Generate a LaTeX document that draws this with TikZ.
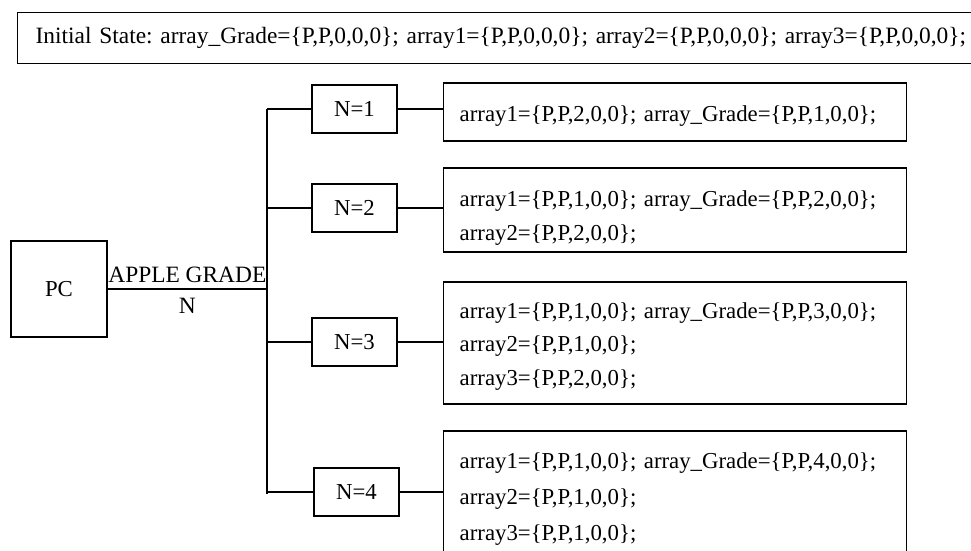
\documentclass[tikz,border=0pt]{standalone}
\usepackage{fontspec}
\setmainfont{Liberation Serif}
\frenchspacing
\begin{document}
\begin{tikzpicture}[x=1pt,y=-1pt,
  line width=1.4pt,
  every node/.style={font=\fontsize{22.8}{34}\selectfont},
  box/.style={draw, rectangle, line width=1.4pt},
  nbox/.style={box, minimum width=85pt, minimum height=48pt, inner sep=0pt},
  frame/.style={box, anchor=west, minimum width=463pt, inner sep=0pt},
  lines/.style={anchor=base west, inner sep=0pt, text width=440pt, align=left},
  wire/.style={line width=1.4pt}]
\useasboundingbox (0,0) rectangle (971,551);
\clip (0,0) rectangle (971,551);

% initial state banner (runs past the right margin)
\node[box, anchor=north west, minimum height=51pt, text width=950pt,
      inner xsep=18pt, inner ysep=0pt, align=left,
      font=\fontsize{23.4}{30}\selectfont] (init) at (17,12)
  {Initial State: array\_Grade=\{P,P,0,0,0\}; array1=\{P,P,0,0,0\}; array2=\{P,P,0,0,0\}; array3=\{P,P,0,0,0\};};

% source
\node[box, minimum width=96pt, minimum height=96pt, inner sep=0pt] (pc) at (59,289) {PC};

% distribution bus
\coordinate (bt) at (267,109);
\coordinate (bb) at (267,494);
\draw[wire] (bt) -- (bb);
\draw[wire] (pc.east) -- (pc.east -| bt)
  node[midway, above, inner sep=6pt, font=\fontsize{23.4}{30}\selectfont] (lab1) {APPLE GRADE}
  node[midway, below, inner sep=8pt, font=\fontsize{23.4}{30}\selectfont] (lab2) {N};

% grade cases
\node[nbox] (n1) at (354.5,109) {N=1};
\node[nbox] (n2) at (354.5,208) {N=2};
\node[nbox] (n3) at (354.5,342) {N=3};
\node[nbox] (n4) at (356.5,492) {N=4};

% frames of the resulting array states
\node[frame, minimum height=58pt]  (s1) at (443,112) {};
\node[frame, minimum height=84pt]  (s2) at (443,210) {};
\node[frame, minimum height=122pt] (s3) at (443,343) {};
\node[frame, minimum height=122pt] (s4) at (443,492) {};

% their contents
\node[lines] (t1) at (459,121)
  {array1=\{P,P,2,0,0\}; array\_Grade=\{P,P,1,0,0\};};
\node[lines] (t2) at (459,206)
  {array1=\{P,P,1,0,0\}; array\_Grade=\{P,P,2,0,0\};\\
   array2=\{P,P,2,0,0\};};
\node[lines, font=\fontsize{22.8}{33.6}\selectfont] (t3) at (459,318)
  {array1=\{P,P,1,0,0\}; array\_Grade=\{P,P,3,0,0\};\\
   array2=\{P,P,1,0,0\};\\
   array3=\{P,P,2,0,0\};};
\node[lines, font=\fontsize{22.8}{36}\selectfont] (t4) at (459,468)
  {array1=\{P,P,1,0,0\}; array\_Grade=\{P,P,4,0,0\};\\
   array2=\{P,P,1,0,0\};\\
   array3=\{P,P,1,0,0\};};

% bus taps and outputs
\foreach \i in {1,2,3,4}{
  \draw[wire] (n\i.west -| bt) -- (n\i.west);
  \draw[wire] (n\i.east) -- (n\i.east -| s\i.west);
}
\end{tikzpicture}
\end{document}
